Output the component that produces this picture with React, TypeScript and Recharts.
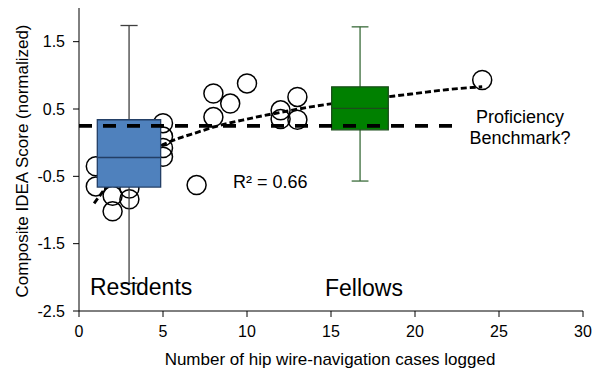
import React from "react";
import {
  ComposedChart,
  XAxis,
  YAxis,
  Scatter,
  Line,
  ReferenceArea,
  ReferenceLine,
} from "recharts";

// Individual trainees: cases logged vs composite score
const caseCounts = [1, 1, 2, 2, 3, 3, 5, 5, 5, 5, 7, 8, 8, 9, 10, 12, 12, 13, 13, 24];
const scores = [-0.35, -0.65, -0.79, -1.02, -0.68, -0.84, 0.29, 0.09, -0.08, -0.21, -0.63, 0.73, 0.38, 0.58, 0.88, 0.48, 0.35, 0.68, 0.34, 0.93];

// Logarithmic trend line
const trendX = [0.9, 1.5, 2, 3, 4, 5, 6, 7, 8, 10, 12, 14, 16, 18, 20, 22, 24];
const trendY = [-0.9, -0.7, -0.54, -0.31, -0.15, -0.03, 0.07, 0.15, 0.23, 0.35, 0.45, 0.54, 0.61, 0.67, 0.73, 0.79, 0.83];

// Box plots
const groupNames = ["Residents", "Fellows"];
const boxLeft = [1.09, 15.04];
const boxRight = [4.86, 18.41];
const whiskerX = [2.98, 16.73];
const whiskerMin = [-2.09, -0.57];
const boxQ1 = [-0.66, 0.19];
const boxMedian = [-0.22, 0.51];
const boxQ3 = [0.34, 0.83];
const whiskerMax = [1.74, 1.72];
const capHalf = [0.51, 0.5];
const boxFill = ["#4F81BD", "#008000"];
const boxStroke = ["#233F66", "#1B4D1B"];
const whiskerStroke = ["#3F3F3F", "#3A6B3A"];

// Benchmark
const benchmarkY = 0.25;
const benchmarkX = [0, 22.8];

const xTicks = [0, 5, 10, 15, 20, 25, 30];
const yTicks = [-2.5, -1.5, -0.5, 0.5, 1.5];

const points = caseCounts.map((x, i) => ({ x, y: scores[i] }));
const trend = trendX.map((x, i) => ({ x, y: trendY[i] }));

const FONT = "'Liberation Sans', Arial, sans-serif";

const Circle = (props: any) => (
  <circle cx={props.cx} cy={props.cy} r={9.5} fill="none" stroke="#000" strokeWidth={1.5} />
);

export default function App() {
  return (
    <div style={{ position: "absolute", left: 0, top: 0, width: 603, height: 371, background: "#fff", fontFamily: FONT }}>
      <ComposedChart
        width={603}
        height={371}
        margin={{ top: 8, right: 20, bottom: 0, left: 0 }}
      >
        <XAxis
          dataKey="x"
          type="number"
          domain={[0, 30]}
          ticks={xTicks}
          allowDataOverflow
          height={60}
          tickSize={6}
          tickMargin={9}
          stroke="#000"
          tick={{ fill: "#000", fontSize: 16, fontFamily: FONT }}
        />
        <YAxis
          dataKey="y"
          type="number"
          domain={[-2.5, 2]}
          ticks={yTicks}
          allowDataOverflow
          width={79}
          tickSize={6}
          tickMargin={8}
          stroke="#000"
          tick={{ fill: "#000", fontSize: 16, fontFamily: FONT }}
        />
        <Scatter data={points} dataKey="y" shape={Circle} isAnimationActive={false} zIndex={100} />
        <Line
          data={trend}
          dataKey="y"
          type="monotone"
          dot={false}
          activeDot={false}
          stroke="#000"
          strokeWidth={2.9}
          strokeDasharray="6 3"
          isAnimationActive={false}
          zIndex={200}
        />
        {groupNames.map((g, i) => (
          <ReferenceLine
            key={g + "-w"}
            segment={[{ x: whiskerX[i], y: whiskerMin[i] }, { x: whiskerX[i], y: whiskerMax[i] }]}
            stroke={whiskerStroke[i]}
            strokeWidth={1.3}
            zIndex={300}
          />
        ))}
        {groupNames.map((g, i) => (
          <ReferenceLine
            key={g + "-ct"}
            segment={[{ x: whiskerX[i] - capHalf[i], y: whiskerMax[i] }, { x: whiskerX[i] + capHalf[i], y: whiskerMax[i] }]}
            stroke={whiskerStroke[i]}
            strokeWidth={1.3}
            zIndex={300}
          />
        ))}
        {groupNames.map((g, i) => (
          <ReferenceLine
            key={g + "-cb"}
            segment={[{ x: whiskerX[i] - capHalf[i], y: whiskerMin[i] }, { x: whiskerX[i] + capHalf[i], y: whiskerMin[i] }]}
            stroke={whiskerStroke[i]}
            strokeWidth={1.3}
            zIndex={300}
          />
        ))}
        {groupNames.map((g, i) => (
          <ReferenceArea
            key={g + "-box"}
            x1={boxLeft[i]}
            x2={boxRight[i]}
            y1={boxQ1[i]}
            y2={boxQ3[i]}
            fill={boxFill[i]}
            fillOpacity={1}
            stroke={boxStroke[i]}
            strokeWidth={1.3}
            zIndex={400}
          />
        ))}
        {groupNames.map((g, i) => (
          <ReferenceLine
            key={g + "-med"}
            segment={[{ x: boxLeft[i], y: boxMedian[i] }, { x: boxRight[i], y: boxMedian[i] }]}
            stroke={boxStroke[i]}
            strokeWidth={1.3}
            zIndex={500}
          />
        ))}
        <ReferenceLine
          segment={[{ x: benchmarkX[0], y: benchmarkY }, { x: benchmarkX[1], y: benchmarkY }]}
          stroke="#000"
          strokeWidth={3.6}
          strokeDasharray="13 11"
          zIndex={600}
        />
      </ComposedChart>
      <svg
        width={603}
        height={371}
        style={{ position: "absolute", left: 0, top: 0, pointerEvents: "none" }}
        fontFamily={FONT}
      >
        <text x={90} y={295} fontSize={23} fill="#000">Residents</text>
        <text x={325} y={296} fontSize={23} fill="#000">Fellows</text>
        <text x={233} y={188} fontSize={18} fill="#000">R² = 0.66</text>
        <text x={520} y={123} fontSize={18} fill="#000" textAnchor="middle">Proficiency</text>
        <text x={520} y={144} fontSize={18} fill="#000" textAnchor="middle">Benchmark?</text>
        <text x={330} y={365} fontSize={17} fill="#000" textAnchor="middle">
          Number of hip wire-navigation cases logged
        </text>
        <text x={28} y={161} fontSize={17} fill="#000" textAnchor="middle" transform="rotate(-90 28 161)">
          Composite IDEA Score (normalized)
        </text>
      </svg>
    </div>
  );
}
